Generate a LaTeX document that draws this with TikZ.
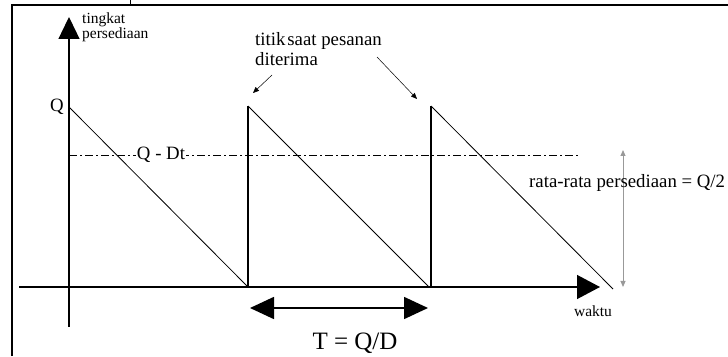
\documentclass[tikz,border=0pt]{standalone}
\usepackage{fontspec}
\setmainfont{Liberation Serif}
\usetikzlibrary{arrows.meta}

\tikzset{
  bigtxt/.style={font=\fontsize{18.8}{20}\selectfont, inner sep=0pt},
  smalltxt/.style={font=\fontsize{15.5}{15}\selectfont, inner sep=0pt, align=left},
  riser/.style={line width=1.6pt},
  drop/.style={line width=0.8pt},
  pointer/.style={-{Triangle[length=6pt,width=5pt]}, line width=0.5pt},
}

\begin{document}
\begin{tikzpicture}[x=1pt,y=1pt]
  \useasboundingbox (0,0) rectangle (728,356);
  % page frame
  \draw[line width=1.2pt] (12,0) -- (12,351) -- (728,351);
  \draw[line width=1pt] (130,351) -- (130,356);
  % axes
  \coordinate (o) at (69,69);
  \draw[line width=1.3pt,-{Triangle[length=22pt,width=21pt]}] (69,29) -- (69,339);
  \draw[line width=1.3pt,-{Triangle[length=23pt,width=24pt]}] (19,69) -- (600,69);
  \node[smalltxt,anchor=north west] (ylbl) at (82,343) {tingkat\\persediaan};
  \node[smalltxt] (xlbl) at (593,45) {waktu};
  % sawtooth
  \coordinate (q0) at (69,249);
  \coordinate (b1) at (248,69);
  \coordinate (q1) at (248,250);
  \coordinate (b2) at (431,69);
  \coordinate (q2) at (431,250);
  \coordinate (b3) at (613,67);
  \draw[drop] (q0) -- (b1);
  \draw[riser] (b1) -- (q1);
  \draw[drop] (q1) -- (429,69);
  \draw[riser] (b2) -- (q2);
  \draw[drop] (q2) -- (b3);
  \node[bigtxt] (qlbl) at (57,249) {Q};
  % level Q - Dt
  \draw[line width=0.6pt,dash pattern=on 8pt off 3pt on 2pt off 3pt] (69,201) -- (578,201);
  \node[bigtxt,fill=white,inner sep=1pt] (qdt) at (161,201) {Q - Dt};
  % order arrivals
  \node[bigtxt,anchor=north west,align=left] (tlbl) at (255,324) {titik\hspace{0.1em}saat pesanan\\diterima};
  \coordinate (p1) at (272,281);
  \coordinate (p2) at (377,299);
  \draw[pointer] (p1) -- (253,263);
  \draw[pointer] (p2) -- (417,257);
  % average stock
  \draw[gray!80,line width=1pt,{Triangle[length=6pt,width=5pt]}-{Triangle[length=6pt,width=5pt]}] (623,206) -- (623,69);
  \node[bigtxt,anchor=west] (avg) at (529,173) {rata-rata persediaan = Q/2};
  % cycle length
  \draw[line width=1.6pt,{Triangle[length=24pt,width=22pt]}-{Triangle[length=24pt,width=22pt]}] (250,48) -- (428,48);
  \node[font=\fontsize{25}{27}\selectfont,inner sep=0pt] (tcyc) at (355,13) {T = Q/D};
\end{tikzpicture}
\end{document}
